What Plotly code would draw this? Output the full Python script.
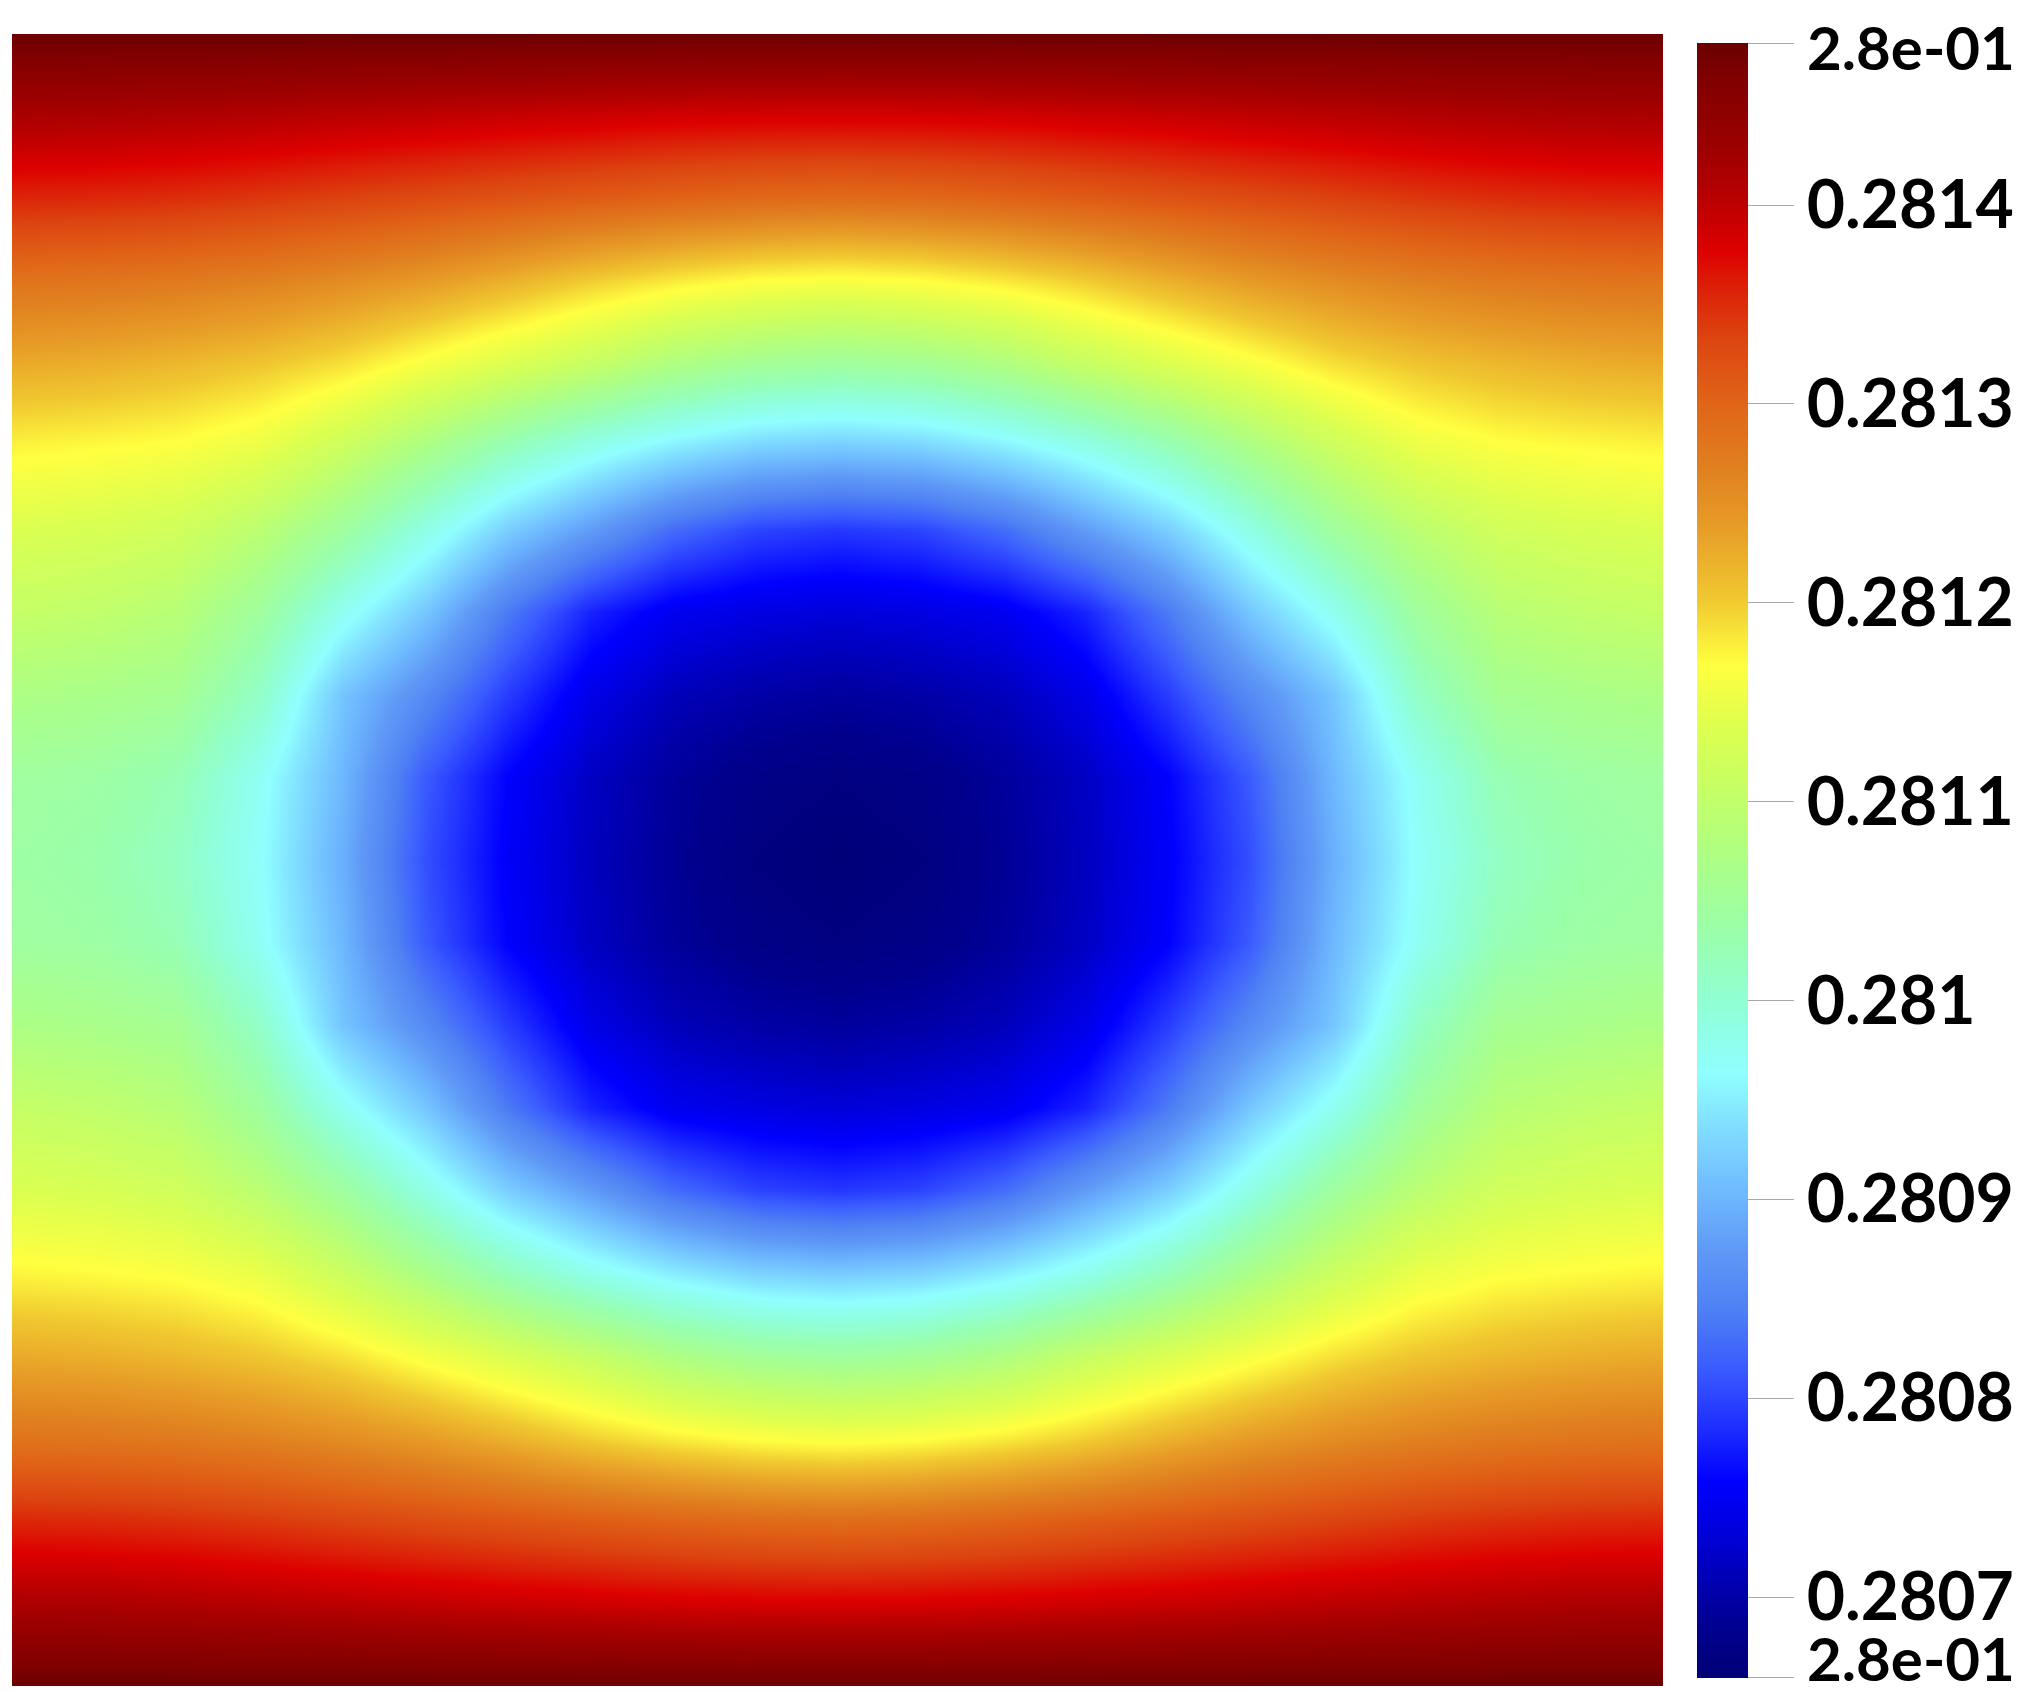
import plotly.graph_objects as go

# grid positions (normalised domain, 0 = left / top edge)
x_pos = [0.0, 0.05, 0.1, 0.15, 0.2, 0.25, 0.3, 0.35, 0.4, 0.45, 0.5,
         0.55, 0.6, 0.65, 0.7, 0.75, 0.8, 0.85, 0.9, 0.95, 1.0]
y_pos = [0.0, 0.05, 0.1, 0.15, 0.2, 0.25, 0.3, 0.35, 0.4, 0.45, 0.5,
         0.55, 0.6, 0.65, 0.7, 0.75, 0.8, 0.85, 0.9, 0.95, 1.0]

# field values, one row per y_pos (top to bottom)
z_values = [
    [0.2814815, 0.2814815, 0.2814815, 0.2814815, 0.2814815, 0.2814815, 0.2814815, 0.2814815, 0.2814815, 0.2814815, 0.2814815,
     0.2814815, 0.2814815, 0.2814815, 0.2814815, 0.2814815, 0.2814815, 0.2814815, 0.2814815, 0.2814815, 0.2814815],
    [0.2814157, 0.2814141, 0.2814108, 0.2814067, 0.2814017, 0.2813968, 0.2813919, 0.2813878, 0.2813837, 0.2813812, 0.2813804,
     0.2813812, 0.2813837, 0.2813878, 0.2813919, 0.2813968, 0.2814017, 0.2814067, 0.2814108, 0.2814141, 0.2814157],
    [0.2813541, 0.2813524, 0.2813483, 0.2813417, 0.2813335, 0.2813253, 0.2813171, 0.2813088, 0.2813006, 0.2812940, 0.2812907,
     0.2812940, 0.2813006, 0.2813088, 0.2813171, 0.2813253, 0.2813335, 0.2813417, 0.2813483, 0.2813524, 0.2813541],
    [0.2812817, 0.2812792, 0.2812743, 0.2812661, 0.2812546, 0.2812398, 0.2812200, 0.2811978, 0.2811798, 0.2811666, 0.2811608,
     0.2811666, 0.2811798, 0.2811978, 0.2812200, 0.2812398, 0.2812546, 0.2812661, 0.2812743, 0.2812792, 0.2812817],
    [0.2812266, 0.2812225, 0.2812151, 0.2812044, 0.2811872, 0.2811608, 0.2811345, 0.2811074, 0.2810745, 0.2810540, 0.2810457,
     0.2810540, 0.2810745, 0.2811074, 0.2811345, 0.2811608, 0.2811872, 0.2812044, 0.2812151, 0.2812225, 0.2812266],
    [0.2811748, 0.2811707, 0.2811650, 0.2811493, 0.2811140, 0.2810688, 0.2810211, 0.2809800, 0.2809487, 0.2809257, 0.2809183,
     0.2809257, 0.2809487, 0.2809800, 0.2810211, 0.2810688, 0.2811140, 0.2811493, 0.2811650, 0.2811707, 0.2811748],
    [0.2811345, 0.2811296, 0.2811197, 0.2810910, 0.2810457, 0.2809849, 0.2809224, 0.2808764, 0.2808279, 0.2807991, 0.2807909,
     0.2807991, 0.2808279, 0.2808764, 0.2809224, 0.2809849, 0.2810457, 0.2810910, 0.2811197, 0.2811296, 0.2811345],
    [0.2811058, 0.2810992, 0.2810868, 0.2810457, 0.2809758, 0.2809158, 0.2808402, 0.2807785, 0.2807473, 0.2807374, 0.2807317,
     0.2807374, 0.2807473, 0.2807785, 0.2808402, 0.2809158, 0.2809758, 0.2810457, 0.2810868, 0.2810992, 0.2811058],
    [0.2810720, 0.2810663, 0.2810581, 0.2810087, 0.2809142, 0.2808566, 0.2807950, 0.2807415, 0.2807127, 0.2806996, 0.2806930,
     0.2806996, 0.2807127, 0.2807415, 0.2807950, 0.2808566, 0.2809142, 0.2810087, 0.2810581, 0.2810663, 0.2810720],
    [0.2810457, 0.2810416, 0.2810252, 0.2809717, 0.2809018, 0.2808155, 0.2807580, 0.2807185, 0.2806922, 0.2806757, 0.2806692,
     0.2806757, 0.2806922, 0.2807185, 0.2807580, 0.2808155, 0.2809018, 0.2809717, 0.2810252, 0.2810416, 0.2810457],
    [0.2810416, 0.2810334, 0.2810128, 0.2809660, 0.2808936, 0.2808073, 0.2807539, 0.2807152, 0.2806881, 0.2806675, 0.2806593,
     0.2806675, 0.2806881, 0.2807152, 0.2807539, 0.2808073, 0.2808936, 0.2809660, 0.2810128, 0.2810334, 0.2810416],
    [0.2810457, 0.2810416, 0.2810252, 0.2809717, 0.2809018, 0.2808155, 0.2807580, 0.2807185, 0.2806922, 0.2806757, 0.2806692,
     0.2806757, 0.2806922, 0.2807185, 0.2807580, 0.2808155, 0.2809018, 0.2809717, 0.2810252, 0.2810416, 0.2810457],
    [0.2810720, 0.2810663, 0.2810581, 0.2810087, 0.2809142, 0.2808566, 0.2807950, 0.2807415, 0.2807127, 0.2806996, 0.2806930,
     0.2806996, 0.2807127, 0.2807415, 0.2807950, 0.2808566, 0.2809142, 0.2810087, 0.2810581, 0.2810663, 0.2810720],
    [0.2811058, 0.2810992, 0.2810868, 0.2810457, 0.2809758, 0.2809158, 0.2808402, 0.2807785, 0.2807473, 0.2807374, 0.2807317,
     0.2807374, 0.2807473, 0.2807785, 0.2808402, 0.2809158, 0.2809758, 0.2810457, 0.2810868, 0.2810992, 0.2811058],
    [0.2811345, 0.2811296, 0.2811197, 0.2810910, 0.2810457, 0.2809849, 0.2809224, 0.2808764, 0.2808279, 0.2807991, 0.2807909,
     0.2807991, 0.2808279, 0.2808764, 0.2809224, 0.2809849, 0.2810457, 0.2810910, 0.2811197, 0.2811296, 0.2811345],
    [0.2811748, 0.2811707, 0.2811650, 0.2811493, 0.2811140, 0.2810688, 0.2810211, 0.2809800, 0.2809487, 0.2809257, 0.2809183,
     0.2809257, 0.2809487, 0.2809800, 0.2810211, 0.2810688, 0.2811140, 0.2811493, 0.2811650, 0.2811707, 0.2811748],
    [0.2812266, 0.2812225, 0.2812151, 0.2812044, 0.2811872, 0.2811608, 0.2811345, 0.2811074, 0.2810745, 0.2810540, 0.2810457,
     0.2810540, 0.2810745, 0.2811074, 0.2811345, 0.2811608, 0.2811872, 0.2812044, 0.2812151, 0.2812225, 0.2812266],
    [0.2812817, 0.2812792, 0.2812743, 0.2812661, 0.2812546, 0.2812398, 0.2812200, 0.2811978, 0.2811798, 0.2811666, 0.2811608,
     0.2811666, 0.2811798, 0.2811978, 0.2812200, 0.2812398, 0.2812546, 0.2812661, 0.2812743, 0.2812792, 0.2812817],
    [0.2813541, 0.2813524, 0.2813483, 0.2813417, 0.2813335, 0.2813253, 0.2813171, 0.2813088, 0.2813006, 0.2812940, 0.2812907,
     0.2812940, 0.2813006, 0.2813088, 0.2813171, 0.2813253, 0.2813335, 0.2813417, 0.2813483, 0.2813524, 0.2813541],
    [0.2814157, 0.2814141, 0.2814108, 0.2814067, 0.2814017, 0.2813968, 0.2813919, 0.2813878, 0.2813837, 0.2813812, 0.2813804,
     0.2813812, 0.2813837, 0.2813878, 0.2813919, 0.2813968, 0.2814017, 0.2814067, 0.2814108, 0.2814141, 0.2814157],
    [0.2814815, 0.2814815, 0.2814815, 0.2814815, 0.2814815, 0.2814815, 0.2814815, 0.2814815, 0.2814815, 0.2814815, 0.2814815,
     0.2814815, 0.2814815, 0.2814815, 0.2814815, 0.2814815, 0.2814815, 0.2814815, 0.2814815, 0.2814815, 0.2814815],
]

z_min = 0.2806593
z_max = 0.2814815

# end ticks sit a hair inside the range so the colour bar keeps them;
# their labels are drawn separately so they stay inside the page
tick_vals = [0.2806594, 0.2807, 0.2808, 0.2809, 0.281, 0.2811, 0.2812, 0.2813, 0.2814, 0.2814814]
tick_text = ['', '0.2807', '0.2808', '0.2809', '0.281', '0.2811',
             '0.2812', '0.2813', '0.2814', '']
end_label = '2.8e-01'

# jet-like map sampled from the colour bar
jet_scale = [
    [0.000, '#000078'], [0.030, '#00008e'], [0.060, '#0000b4'], [0.090, '#0000dc'],
    [0.120, '#0000ff'], [0.155, '#2030ff'], [0.190, '#3a5cff'], [0.225, '#4f80f4'],
    [0.260, '#5e98f6'], [0.300, '#70bcff'], [0.335, '#80dcff'], [0.370, '#90ffff'],
    [0.410, '#90ffd8'], [0.450, '#98ffb0'], [0.500, '#acff86'], [0.540, '#c4ff68'],
    [0.580, '#dcff50'], [0.620, '#ffff40'], [0.660, '#f0c830'], [0.700, '#e8a028'],
    [0.740, '#e08020'], [0.780, '#e06418'], [0.820, '#dc4410'], [0.850, '#dc2008'],
    [0.873, '#dd0000'], [0.910, '#b40000'], [0.940, '#9a0000'], [0.980, '#800000'],
    [1.000, '#6a0000'],
]

W, H = 2040, 1692
M_L, M_R, M_T, M_B = 4, 385, 26, 14
plot_h = H - M_T - M_B
plot_w = W - M_L - M_R
label_font = dict(family='Lato', size=66, color='black', weight='bold')
end_font = dict(family='Lato', size=60, color='black', weight='bold')

fig = go.Figure()
fig.add_trace(go.Heatmap(
    x=x_pos,
    y=y_pos,
    z=z_values,
    zmin=z_min,
    zmax=z_max,
    zsmooth='best',
    colorscale=jet_scale,
    colorbar=dict(
        thickness=51,
        len=1635,
        lenmode='pixels',
        x=(1689 - M_L) / plot_w,
        xanchor='left',
        xpad=0,
        ypad=0,
        y=(H - M_B - 852.5) / plot_h,
        yanchor='middle',
        outlinewidth=0,
        tickmode='array',
        tickvals=tick_vals,
        ticktext=tick_text,
        ticks='outside',
        ticklen=46,
        tickwidth=1,
        tickcolor='#aaaaaa',
        tickfont=label_font,
    ),
    hoverinfo='skip',
))

# min / max labels of the colour bar
for py, anchor in [(2, 'top'), (H - 5, 'bottom')]:
    fig.add_annotation(
        text=end_label,
        xref='paper', yref='paper',
        x=(1798 - M_L) / plot_w,
        y=(H - M_B - py) / plot_h,
        xanchor='left', yanchor=anchor,
        borderpad=0,
        showarrow=False,
        font=end_font,
    )

fig.update_xaxes(visible=False, range=[0, 1])
fig.update_yaxes(visible=False, range=[1, 0])
fig.update_layout(
    width=W,
    height=H,
    margin=dict(l=M_L, r=M_R, t=M_T, b=M_B),
    paper_bgcolor='white',
    plot_bgcolor='white',
)

fig.write_html("out.html")
